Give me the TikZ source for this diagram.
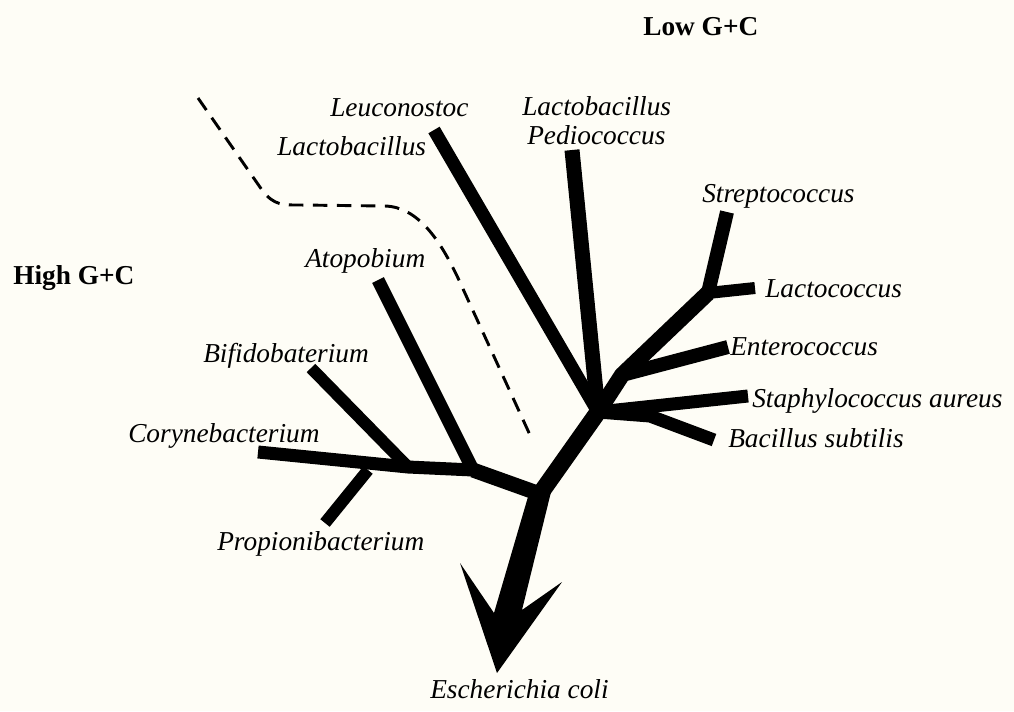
\documentclass[tikz,border=0pt]{standalone}
\usepackage{fontspec}
\setmainfont{Liberation Serif}
\definecolor{paper}{HTML}{FEFDF6}
\begin{document}
\begin{tikzpicture}[x=0.75pt,y=-0.75pt,
  br/.style={line width=#1*0.75pt, line cap=butt, line join=round},
  br/.default=13,
  lab/.style={anchor=base west, inner sep=0pt, font=\fontsize{20.5}{24}\selectfont\itshape},
  grp/.style={anchor=base west, inner sep=0pt, font=\fontsize{20.5}{24}\selectfont\bfseries},
  sep/.style={line width=2.2pt, dash pattern=on 11pt off 7pt}]
\fill[paper] (0,0) rectangle (1014,711);
\useasboundingbox (0,0) rectangle (1014,711);

% junctions
\coordinate (J0) at (540,494);
\coordinate (J1) at (598,412);
\coordinate (J2) at (622,375);
\coordinate (J3) at (708,293);
\coordinate (J4) at (473,470);
\coordinate (J5) at (408,467);
\coordinate (J6) at (368,470);
\coordinate (JB) at (650,416);
% tips
\coordinate (tLeu) at (434,130);
\coordinate (tPed) at (572,150);
\coordinate (tStr) at (727,212);
\coordinate (tLcc) at (755,288);
\coordinate (tEnt) at (728,347);
\coordinate (tSta) at (748,396);
\coordinate (tBac) at (714,440);
\coordinate (tAto) at (378,280);
\coordinate (tBif) at (311,368);
\coordinate (tCor) at (258,452);
\coordinate (tPro) at (325,523);

% low G+C
\draw[br=17] (J0) -- (J1);
\draw[br=13] (J1) -- (tLeu);
\draw[br=15] (J1) -- (tPed);
\draw[br=16] (J1) -- (J2) -- (J3);
\draw[br=14] (J3) -- (tStr);
\draw[br=12] (J3) -- (tLcc);
\draw[br=14] (J2) -- (tEnt);
\draw[br=13] (J1) -- (tSta);
\draw[br=13] (J1) -- (JB) -- (tBac);

% high G+C
\draw[br=15] (J0) -- (J4);
\draw[br=13] (J4) -- (tAto);
\draw[br=13] (J4) -- (J5) -- (tCor);
\draw[br=12] (J5) -- (tBif);
\draw[br=12] (J6) -- (tPro);

% arrow to E. coli
\coordinate (aL) at (530,490);
\coordinate (aR) at (551,492);
\coordinate (nL) at (494,613);
\coordinate (nR) at (522,610);
\coordinate (wL) at (460,563);
\coordinate (wR) at (562,582);
\coordinate (tip) at (497,673);
\fill[black] (aL) -- (nL) -- (wL) -- (tip) -- (wR) -- (nR) -- (aR) -- cycle;

% separator
\coordinate (s0) at (198,98);
\coordinate (s1) at (530,435);
\draw[sep] (s0) -- (262,190) .. controls (274,206) and (284,205) .. (300,205)
  -- (385,206) .. controls (418,207) and (440,240) .. (458,278) -- (s1);

% labels
\node[grp] (low) at (643,35) {Low G+C};
\node[grp] (high) at (13,284) {High G+C};
\node[lab] (leu) at (330,116) {Leuconostoc};
\node[lab] (lac1) at (277,155) {Lactobacillus};
\node[lab] (lac2) at (522,115) {Lactobacillus};
\node[lab] (ped) at (527,144) {Pediococcus};
\node[lab] (str) at (702,202) {Streptococcus};
\node[lab] (lcc) at (765,297) {Lactococcus};
\node[lab] (ent) at (730,355) {Enterococcus};
\node[lab] (sta) at (752,407) {Staphylococcus aureus};
\node[lab] (bac) at (728,447) {Bacillus subtilis};
\node[lab] (ato) at (305,267) {Atopobium};
\node[lab] (bif) at (203,362) {Bifidobaterium};
\node[lab] (cor) at (128,442) {Corynebacterium};
\node[lab] (pro) at (217,550) {Propionibacterium};
\node[lab] (eco) at (430,698) {Escherichia coli};
\end{tikzpicture}
\end{document}
